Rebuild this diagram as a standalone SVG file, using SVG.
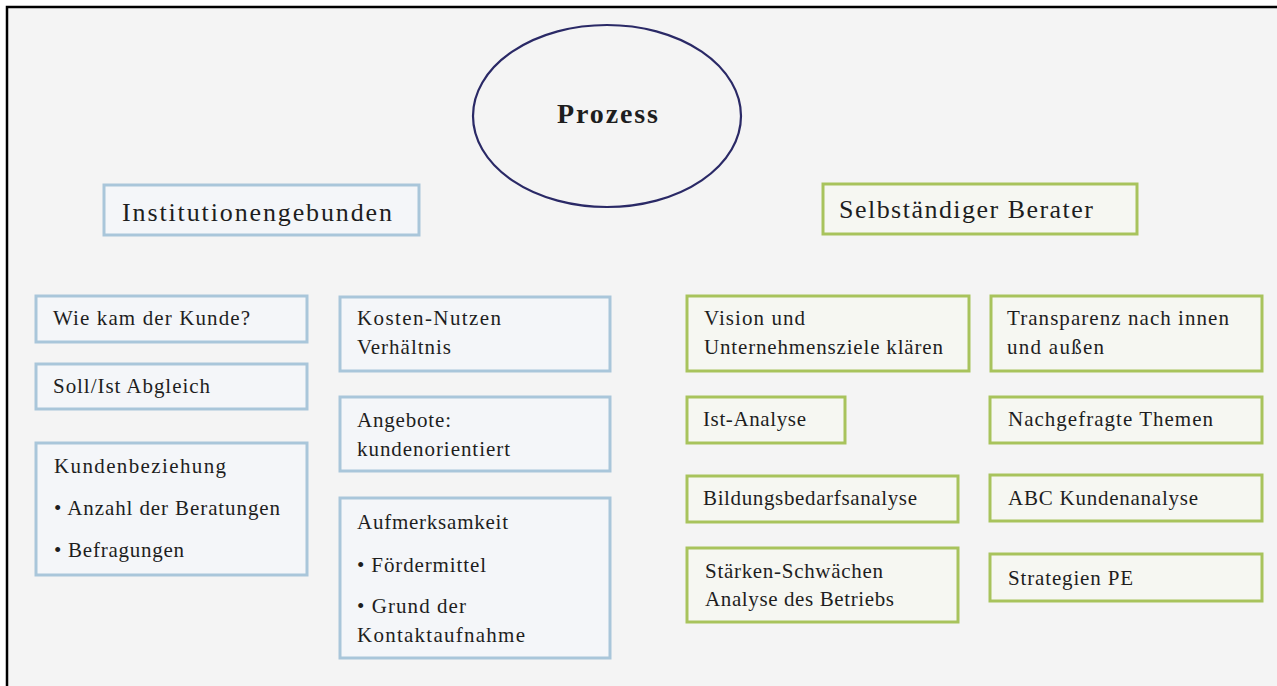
<svg xmlns="http://www.w3.org/2000/svg" width="1277" height="686" viewBox="0 0 1277 686">
  <style>
    text { fill: #1e1e1e; }
    .body { font-size: 21px; }
    .head { font-size: 26px; }
    .title { font-size: 28px; font-weight: bold; }
    .blue { fill: #f4f6f9; stroke: #a9c6da; stroke-width: 3; }
    .green { fill: #f6f7f2; stroke: #a8c35c; stroke-width: 3; }
  </style>

  <!-- page background and frame -->
  <rect x="0" y="0" width="1277" height="686" fill="#ffffff"/>
  <rect x="7" y="7" width="1270" height="679" fill="#f4f4f4"/>
  <path d="M7,686 V7 H1277" fill="none" stroke="#000000" stroke-width="2.5"/>

  <g font-family="'Liberation Serif', 'DejaVu Serif', 'Times New Roman', serif">
  <!-- central topic -->
  <g id="prozess">
    <ellipse cx="607" cy="116" rx="134" ry="91" fill="none" stroke="#2a2966" stroke-width="2.2"/>
    <text class="title" x="557" y="123" textLength="101" lengthAdjust="spacing">Prozess</text>
  </g>

  <!-- column headers -->
  <g id="institutionengebunden">
    <rect class="blue" x="104" y="185" width="315" height="50"/>
    <text class="head" x="122" y="221" textLength="270" lengthAdjust="spacing">Institutionengebunden</text>
  </g>
  <g id="selbstaendiger-berater">
    <rect class="green" x="823" y="184" width="314" height="50"/>
    <text class="head" x="839" y="218" textLength="254" lengthAdjust="spacing">Selbständiger Berater</text>
  </g>

  <!-- left column -->
  <g id="wie-kam-der-kunde">
    <rect class="blue" x="36" y="296" width="271" height="46"/>
    <text class="body" x="53" y="325" textLength="197" lengthAdjust="spacing">Wie kam der Kunde?</text>
  </g>
  <g id="soll-ist-abgleich">
    <rect class="blue" x="36" y="364" width="271" height="45"/>
    <text class="body" x="53" y="393" textLength="157" lengthAdjust="spacing">Soll/Ist Abgleich</text>
  </g>
  <g id="kundenbeziehung">
    <rect class="blue" x="36" y="443" width="271" height="132"/>
    <text class="body" x="54" y="473" textLength="172" lengthAdjust="spacing">Kundenbeziehung</text>
    <text class="body" x="54" y="515" textLength="226" lengthAdjust="spacing">• Anzahl der Beratungen</text>
    <text class="body" x="54" y="557" textLength="130" lengthAdjust="spacing">• Befragungen</text>
  </g>

  <!-- middle column -->
  <g id="kosten-nutzen">
    <rect class="blue" x="340" y="297" width="270" height="74"/>
    <text class="body" x="357" y="325" textLength="144" lengthAdjust="spacing">Kosten-Nutzen</text>
    <text class="body" x="357" y="354" textLength="94" lengthAdjust="spacing">Verhältnis</text>
  </g>
  <g id="angebote">
    <rect class="blue" x="340" y="397" width="270" height="74"/>
    <text class="body" x="357" y="427" textLength="94" lengthAdjust="spacing">Angebote:</text>
    <text class="body" x="357" y="456" textLength="153" lengthAdjust="spacing">kundenorientiert</text>
  </g>
  <g id="aufmerksamkeit">
    <rect class="blue" x="340" y="498" width="270" height="160"/>
    <text class="body" x="357" y="529" textLength="151" lengthAdjust="spacing">Aufmerksamkeit</text>
    <text class="body" x="357" y="572" textLength="129" lengthAdjust="spacing">• Fördermittel</text>
    <text class="body" x="357" y="613" textLength="109" lengthAdjust="spacing">• Grund der</text>
    <text class="body" x="357" y="642" textLength="168" lengthAdjust="spacing">Kontaktaufnahme</text>
  </g>

  <!-- right side, first column -->
  <g id="vision">
    <rect class="green" x="687" y="296" width="282" height="75"/>
    <text class="body" x="704" y="325" textLength="101" lengthAdjust="spacing">Vision und</text>
    <text class="body" x="704" y="354" textLength="239" lengthAdjust="spacing">Unternehmensziele klären</text>
  </g>
  <g id="ist-analyse">
    <rect class="green" x="687" y="397" width="158" height="46"/>
    <text class="body" x="703" y="426" textLength="103" lengthAdjust="spacing">Ist-Analyse</text>
  </g>
  <g id="bildungsbedarfsanalyse">
    <rect class="green" x="687" y="476" width="271" height="46"/>
    <text class="body" x="703" y="505" textLength="214" lengthAdjust="spacing">Bildungsbedarfsanalyse</text>
  </g>
  <g id="staerken-schwaechen">
    <rect class="green" x="687" y="548" width="271" height="74"/>
    <text class="body" x="705" y="578" textLength="178" lengthAdjust="spacing">Stärken-Schwächen</text>
    <text class="body" x="705" y="606" textLength="189" lengthAdjust="spacing">Analyse des Betriebs</text>
  </g>

  <!-- right side, second column -->
  <g id="transparenz">
    <rect class="green" x="991" y="296" width="271" height="75"/>
    <text class="body" x="1007" y="325" textLength="222" lengthAdjust="spacing">Transparenz nach innen</text>
    <text class="body" x="1007" y="354" textLength="97" lengthAdjust="spacing">und außen</text>
  </g>
  <g id="nachgefragte-themen">
    <rect class="green" x="990" y="397" width="272" height="46"/>
    <text class="body" x="1008" y="426" textLength="205" lengthAdjust="spacing">Nachgefragte Themen</text>
  </g>
  <g id="abc-kundenanalyse">
    <rect class="green" x="990" y="475" width="272" height="46"/>
    <text class="body" x="1008" y="505" textLength="190" lengthAdjust="spacing">ABC Kundenanalyse</text>
  </g>
  <g id="strategien-pe">
    <rect class="green" x="990" y="554" width="272" height="47"/>
    <text class="body" x="1008" y="585" textLength="125" lengthAdjust="spacing">Strategien PE</text>
  </g>
  </g>

  <!-- no connectors are drawn between the nodes -->
  <g id="connectors"/>
</svg>
